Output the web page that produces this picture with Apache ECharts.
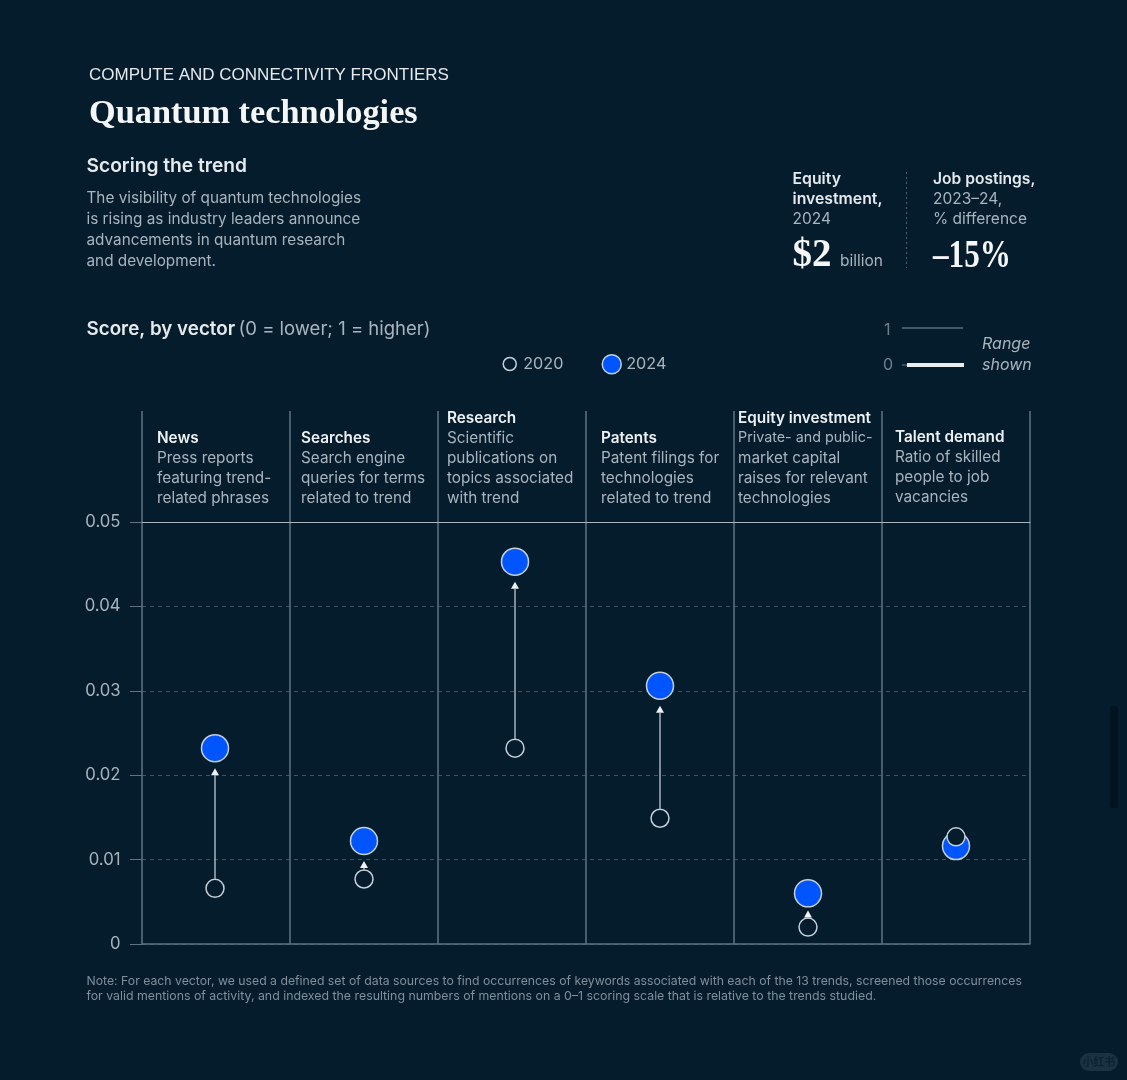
<!DOCTYPE html>
<html><head><meta charset="utf-8">
<style>html,body{margin:0;padding:0;background:#051c2c}#c{width:1127px;height:1080px}</style>
<script src="https://cdn.jsdelivr.net/npm/echarts@6/dist/echarts.min.js"></script>
</head><body><div id="c"></div>
<script>
const categories = ['News','Searches','Research','Patents','Equity investment','Talent demand'];
const values2020 = [0.0066,0.0077,0.0232,0.0149,0.0020,0.0127];
const values2024 = [0.0232,0.0122,0.0453,0.0306,0.0060,0.0116];
const yTicks = ['0','0.01','0.02','0.03','0.04','0.05'];
const descriptions = [
 ['Press reports','featuring trend-','related phrases'],
 ['Search engine','queries for terms','related to trend'],
 ['Scientific','publications on','topics associated','with trend'],
 ['Patent filings for','technologies','related to trend'],
 ['Private- and public-','market capital','raises for relevant','technologies'],
 ['Ratio of skilled','people to job','vacancies']
];
const headerX = [157,301,447,601,738,895];
const headerBase = [497,497,497,497,497,496];
const markNudge = [-1,0,3,0,0,0];

const BG='#051c2c', BLUE='#0055ff', RING='#c4d0da', LINE='#5f7383', TXT='#a9b5be', WHITE='#f4f6f7';
const SANS='Inter, "Noto Sans", sans-serif';
const t=(x,y,text,size,color,weight,extra,el)=>Object.assign({type:'text',silent:true,x,y:y+1,style:Object.assign({text,fontSize:size,fill:color,fontWeight:weight||400,fontFamily:SANS,verticalAlign:'middle'},extra||{})},el||{});
const g=[];
g.push({type:'rect',silent:true,z:-1,shape:{x:1110,y:706,width:8,height:102,r:3},style:{fill:'#03131f'}});
g.push({type:'rect',silent:true,z:-1,shape:{x:1080,y:1053,width:38,height:18,r:9},style:{fill:'#1b3242'}});
g.push(t(1099,1061,'小红书',11,'#0c2333',700,{align:'center',fontFamily:'"Noto Sans CJK SC"'}));
g.push(t(89,74,'COMPUTE AND CONNECTIVITY FRONTIERS',17,'#e6eaed',400,{fontFamily:'"Liberation Sans"'}));
g.push(t(89,113,'Quantum technologies',34.3,WHITE,700,{fontFamily:'"Liberation Serif"'}));
g.push(t(86.5,165,'Scoring the trend',19.2,'#e6eaed',600));
['The visibility of quantum technologies','is rising as industry leaders announce','advancements in quantum research','and development.'].forEach((s,i)=>g.push(t(86.5,197+i*21,s,15.3,TXT)));
g.push({type:'text',silent:true,x:86.5,y:329,style:{rich:{b:{fontSize:18.8,fontWeight:600,fill:'#e6eaed',fontFamily:SANS},n:{fontSize:18.5,fill:TXT,fontFamily:SANS}},text:'{b|Score, by vector} {n|(0 = lower; 1 = higher)}',verticalAlign:'middle'}});
// KPI block
g.push(t(792.5,178,'Equity',15.8,'#e6eaed',600));
g.push(t(792.5,198,'investment,',15.8,'#e6eaed',600));
g.push(t(792.5,218,'2024',15.5,TXT));
g.push(t(792.5,255,'$2',39,WHITE,700,{fontFamily:'"Liberation Serif"'}));
g.push(t(840,260,'billion',15.5,TXT));
g.push({type:'line',silent:true,shape:{x1:906.5,y1:172,x2:906.5,y2:268},style:{stroke:'#4a5e6d',lineWidth:1,lineDash:[2,3]}});
g.push(t(933,178,'Job postings,',15.6,'#e6eaed',600));
g.push(t(933,198,'2023–24,',15.5,TXT));
g.push(t(933,218,'% difference',15.5,TXT));
g.push(t(933,256,'–15%',39,WHITE,700,{fontFamily:'"Liberation Serif"'},{scaleX:0.8}));
// Range key
g.push(t(884,329,'1',16,'#6f808d'));
g.push(t(883,364,'0',16,'#6f808d'));
g.push({type:'line',silent:true,shape:{x1:902,y1:328,x2:963,y2:328},style:{stroke:'#8394a0',lineWidth:1}});
g.push({type:'line',silent:true,shape:{x1:902,y1:365,x2:964,y2:365},style:{stroke:'#6f808d',lineWidth:1}});
g.push({type:'line',silent:true,shape:{x1:907,y1:365,x2:964,y2:365},style:{stroke:'#e8edf0',lineWidth:4}});
g.push(t(982,343,'Range',16,TXT,400,{fontStyle:'italic'}));
g.push(t(982,364,'shown',16,TXT,400,{fontStyle:'italic'}));
// Column headers
categories.forEach((c,i)=>{
  const d=descriptions[i], n=d.length;
  g.push(t(headerX[i],headerBase[i]-n*20,c,15.3,'#eef1f3',600));
  d.forEach((s,k)=>g.push(t(headerX[i],headerBase[i]-(n-1-k)*20,s,s.length>19?14.3:15.3,TXT)));
});
// Note
g.push(t(86.5,980,'Note: For each vector, we used a defined set of data sources to find occurrences of keywords associated with each of the 13 trends, screened those occurrences',12.26,'#7f8f9b'));
g.push(t(86.5,995,'for valid mentions of activity, and indexed the resulting numbers of mentions on a 0–1 scoring scale that is relative to the trends studied.',12.33,'#7f8f9b'));

const chart=echarts.init(document.getElementById('c'),null,{renderer:'canvas'});
const grid={left:142,right:97,top:522,bottom:136,show:false};
const headGrid={left:142,right:97,top:411,height:111,show:false};
const catAxis=(extra)=>Object.assign({type:'category',data:categories,axisLabel:{show:false},axisTick:{show:false},
  splitLine:{show:true,interval:0,lineStyle:{color:LINE,width:1.5}}},extra);
const legendText={color:TXT,fontSize:16.2,fontFamily:SANS};
chart.setOption({
  backgroundColor:BG,
  animation:false,
  graphic:g,
  grid:[grid,headGrid],
  legend:[
   {left:502.5,top:356,padding:0,itemWidth:13,itemHeight:13,selectedMode:false,
    textStyle:Object.assign({padding:[0,0,0,2]},legendText),
    data:[{name:'2020',icon:'circle',itemStyle:{color:BG,borderColor:RING,borderWidth:1.5}}]},
   {left:601.5,top:354,padding:0,itemWidth:19,itemHeight:19,selectedMode:false,
    textStyle:Object.assign({},legendText),
    data:[{name:'2024',icon:'circle',itemStyle:{color:BLUE,borderColor:RING,borderWidth:1.5}}]}
  ],
  xAxis:[
    catAxis({gridIndex:0,position:'bottom',axisLine:{show:true,lineStyle:{color:LINE,width:1.5}}}),
    catAxis({gridIndex:1,position:'bottom',axisLine:{show:true,lineStyle:{color:'#aab6bf',width:1}}})
  ],
  yAxis:[
    {type:'value',gridIndex:0,min:0,max:0.05,interval:0.01,
     axisLine:{show:false},
     axisTick:{show:true,length:12,lineStyle:{color:LINE,width:1}},
     axisLabel:{color:TXT,fontSize:16.7,fontFamily:SANS,margin:21.5,formatter:(v)=>yTicks[Math.round(v*100)]},
     splitLine:{show:true,lineStyle:{color:'#3f5463',type:[4,4],width:1}}},
    {type:'value',gridIndex:1,min:0,max:1,axisLine:{show:false},axisTick:{show:false},axisLabel:{show:false},splitLine:{show:false}}
  ],
  series:[
    {type:'custom',name:'change',coordinateSystem:'cartesian2d',xAxisIndex:0,yAxisIndex:0,z:3,silent:true,clip:false,
     data:categories.map((c,i)=>[i,values2020[i],values2024[i]]),
     renderItem:(p,api)=>{
       const i=api.value(0), a=api.coord([i,api.value(1)]), b=api.coord([i,api.value(2)]);
       if(api.value(2)<=api.value(1)) return {type:'group',children:[]};
       const x=a[0]+markNudge[i], from=a[1]-9.5, tip=Math.min(b[1]+20,from-7), base=tip+7;
       const kids=[{type:'polygon',shape:{points:[[x,tip],[x-4,base],[x+4,base]]},style:{fill:'#f0f3f5'}}];
       if(from>base) kids.push({type:'line',shape:{x1:x,y1:base,x2:x,y2:from},style:{stroke:'#cfd8df',lineWidth:1.2}});
       return {type:'group',children:kids};
     }},
    {type:'scatter',name:'2024',xAxisIndex:0,yAxisIndex:0,z:4,silent:true,symbol:'circle',symbolSize:27,
     data:values2024.map((v,i)=>({value:[i,v],symbolOffset:[markNudge[i],0]})),
     itemStyle:{color:BLUE,borderColor:RING,borderWidth:1.5,opacity:1}},
    {type:'scatter',name:'2020',xAxisIndex:0,yAxisIndex:0,z:5,silent:true,symbol:'circle',symbolSize:18,
     data:values2020.map((v,i)=>({value:[i,v],symbolOffset:[markNudge[i],0]})),
     itemStyle:{color:BG,borderColor:RING,borderWidth:1.5,opacity:1}}
  ]
});
</script></body></html>
